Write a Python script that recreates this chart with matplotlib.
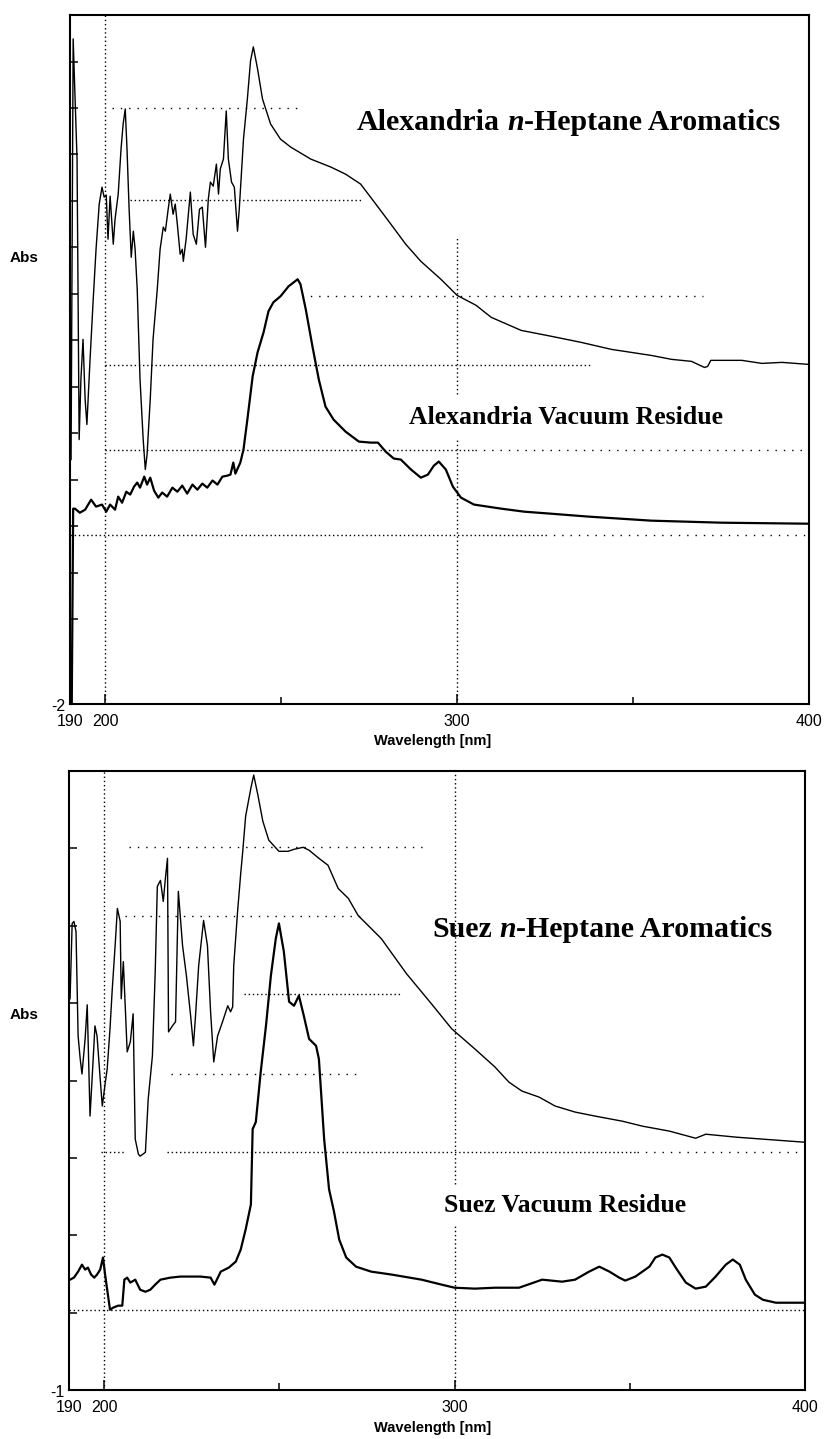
import numpy as np
import matplotlib
matplotlib.use("Agg")
import matplotlib.pyplot as plt

W, H = 826, 1439

# ---------------- spectra data ----------------
# Alexandria n-heptane aromatics
alex_aro_nm = [190.3, 190.9, 191.4, 192.0, 192.6, 193.1, 193.7, 194.3, 194.8, 195.7,
               196.6, 197.4, 198.3, 199.1, 199.7, 200.3, 200.8, 201.4, 202.3, 202.8,
               203.7, 204.5, 205.1, 205.7, 206.2, 206.8, 207.4, 208.0, 208.5, 209.1,
               209.9, 210.8, 211.4, 211.9, 212.8, 213.6, 214.8, 215.6, 216.5, 217.1,
               217.9, 218.5, 219.3, 219.9, 220.5, 221.3, 221.9, 222.2, 223.0, 224.2,
               225.0, 225.9, 226.8, 227.6, 228.5, 229.3, 229.9, 230.7, 231.6, 232.2,
               232.7, 233.6, 234.4, 235.0, 235.9, 236.7, 237.6, 238.1, 239.3, 240.4,
               241.3, 242.1, 243.3, 244.7, 247.0, 249.8, 252.7, 258.4, 264.1, 268.3,
               272.6, 276.9, 281.2, 285.4, 289.7, 295.4, 300.0, 305.4, 309.7, 318.2,
               326.8, 335.3, 343.8, 355.2, 360.9, 366.6, 370.3, 371.2, 372.1, 380.9,
               386.6, 392.3, 400.0]
alex_aro_abs = [-0.556, 1.929, 1.604, 1.219, -0.438, -0.083, 0.154, -0.201, -0.349, 0.036,
                0.391, 0.686, 0.953, 1.053, 0.994, 1.006, 0.746, 1.000, 0.716, 0.864,
                1.012, 1.278, 1.426, 1.515, 1.278, 0.923, 0.639, 0.793, 0.686, 0.450,
                -0.083, -0.438, -0.615, -0.527, -0.201, 0.154, 0.450, 0.686, 0.817, 0.793,
                0.923, 1.012, 0.893, 0.953, 0.834, 0.657, 0.686, 0.615, 0.746, 1.024,
                0.775, 0.716, 0.923, 0.935, 0.698, 0.982, 1.083, 1.059, 1.189, 1.012,
                1.160, 1.219, 1.503, 1.219, 1.083, 1.053, 0.793, 0.923, 1.337, 1.574,
                1.799, 1.882, 1.751, 1.574, 1.426, 1.337, 1.290, 1.219, 1.172, 1.130,
                1.071, 0.953, 0.834, 0.716, 0.615, 0.509, 0.414, 0.355, 0.284, 0.207,
                0.172, 0.136, 0.095, 0.059, 0.036, 0.024, -0.012, -0.006, 0.030, 0.030,
                0.012, 0.018, 0.006]

# Alexandria vacuum residue
alex_vr_nm = [190.5, 190.9, 191.4, 192.8, 194.3, 196.0, 197.4, 199.1, 200.3, 201.4,
              202.8, 203.7, 204.8, 206.0, 207.1, 208.2, 209.1, 209.9, 211.1, 211.9,
              212.8, 213.9, 215.1, 216.2, 217.6, 219.1, 220.5, 221.9, 223.3, 224.8,
              226.2, 227.6, 229.0, 230.5, 231.9, 233.3, 234.7, 235.6, 236.4, 237.0,
              238.4, 239.3, 240.4, 241.9, 243.3, 245.0, 246.4, 247.8, 249.8, 252.1,
              254.7, 255.5, 257.0, 258.9, 260.7, 262.6, 264.9, 268.3, 272.1, 275.5,
              277.5, 279.7, 282.0, 284.0, 286.9, 289.7, 291.7, 293.4, 294.8, 296.8,
              298.8, 301.1, 304.8, 312.5, 319.1, 326.8, 337.3, 355.2, 375.2, 400.0]
alex_vr_abs = [-2.000, -0.846, -0.846, -0.870, -0.852, -0.793, -0.834, -0.822, -0.864, -0.822,
               -0.852, -0.775, -0.811, -0.746, -0.763, -0.716, -0.692, -0.722, -0.657, -0.704,
               -0.663, -0.740, -0.781, -0.751, -0.775, -0.722, -0.746, -0.710, -0.757, -0.704,
               -0.734, -0.698, -0.722, -0.680, -0.704, -0.657, -0.651, -0.645, -0.574, -0.639,
               -0.574, -0.497, -0.320, -0.065, 0.077, 0.195, 0.320, 0.373, 0.408, 0.467,
               0.509, 0.479, 0.331, 0.112, -0.083, -0.243, -0.320, -0.391, -0.450, -0.456,
               -0.456, -0.509, -0.550, -0.556, -0.615, -0.663, -0.645, -0.592, -0.568, -0.615,
               -0.716, -0.781, -0.822, -0.846, -0.864, -0.876, -0.893, -0.917, -0.929, -0.935]

# Suez n-heptane aromatics
suez_aro_nm = [190.3, 190.9, 191.4, 192.0, 192.6, 193.2, 193.7, 194.6, 195.2, 196.0,
               196.9, 197.4, 198.0, 198.9, 199.5, 200.3, 200.9, 201.7, 202.3, 203.2,
               203.8, 204.6, 204.9, 205.5, 206.6, 207.5, 208.3, 208.9, 209.8, 210.3,
               211.8, 212.6, 213.8, 214.6, 215.2, 216.1, 216.9, 217.5, 218.1, 218.4,
               219.5, 220.4, 221.2, 222.4, 223.5, 224.7, 225.5, 226.1, 227.0, 228.4,
               229.5, 230.4, 231.3, 232.4, 233.8, 235.3, 236.1, 236.7, 237.0, 238.1,
               239.0, 239.6, 240.4, 241.9, 242.7, 243.9, 245.3, 247.0, 249.9, 252.5,
               254.2, 256.8, 258.5, 261.3, 263.9, 266.8, 269.7, 272.5, 279.1, 286.3,
               293.4, 299.2, 305.8, 311.5, 315.5, 319.2, 324.1, 328.7, 334.4, 340.1,
               347.9, 353.6, 361.3, 368.8, 371.7, 380.3, 388.0, 400.0]
suez_aro_abs = [1.528, 2.015, 2.028, 1.963, 1.288, 1.139, 1.042, 1.269, 1.489, 0.770,
                1.139, 1.353, 1.288, 1.010, 0.835, 0.977, 1.075, 1.334, 1.574, 1.885,
                2.112, 2.028, 1.528, 1.768, 1.185, 1.250, 1.431, 0.621, 0.524, 0.511,
                0.536, 0.880, 1.159, 1.703, 2.254, 2.293, 2.157, 2.306, 2.436, 1.314,
                1.353, 1.379, 2.222, 1.872, 1.677, 1.418, 1.224, 1.418, 1.742, 2.034,
                1.872, 1.444, 1.120, 1.288, 1.379, 1.483, 1.444, 1.476, 1.742, 2.092,
                2.339, 2.488, 2.708, 2.890, 2.974, 2.844, 2.676, 2.553, 2.481, 2.481,
                2.494, 2.507, 2.488, 2.436, 2.391, 2.241, 2.177, 2.066, 1.917, 1.690,
                1.496, 1.334, 1.204, 1.088, 0.990, 0.932, 0.893, 0.835, 0.796, 0.770,
                0.737, 0.705, 0.673, 0.627, 0.653, 0.634, 0.621, 0.601]

# Suez vacuum residue
suez_vr_nm = [190.3, 191.4, 192.6, 193.7, 194.6, 195.4, 196.3, 197.2, 198.0, 198.9,
              199.7, 200.3, 200.9, 201.7, 202.6, 204.0, 205.2, 205.8, 206.6, 207.5,
              208.9, 210.3, 211.8, 213.2, 214.6, 216.1, 218.9, 221.8, 224.7, 227.5,
              230.4, 231.5, 233.3, 235.6, 237.6, 239.0, 240.4, 241.9, 242.4, 243.3,
              244.7, 246.2, 247.6, 249.0, 249.9, 251.3, 252.8, 254.2, 255.6, 257.0,
              258.5, 260.5, 261.3, 262.8, 264.2, 265.6, 267.1, 269.1, 271.9, 276.2,
              282.0, 290.6, 296.3, 300.0, 305.8, 311.5, 318.4, 325.0, 330.7, 334.4,
              338.4, 341.3, 344.2, 347.0, 348.7, 351.6, 355.6, 357.3, 359.3, 361.3,
              363.1, 366.0, 368.8, 371.7, 374.5, 377.4, 379.4, 381.4, 383.1, 385.7,
              388.0, 391.7, 400.0]
suez_vr_abs = [-0.287, -0.274, -0.235, -0.190, -0.222, -0.209, -0.254, -0.274, -0.254, -0.222,
               -0.144, -0.254, -0.352, -0.481, -0.468, -0.455, -0.455, -0.287, -0.274, -0.306,
               -0.287, -0.352, -0.365, -0.352, -0.319, -0.287, -0.274, -0.267, -0.267, -0.267,
               -0.274, -0.319, -0.235, -0.209, -0.170, -0.092, 0.037, 0.199, 0.686, 0.731,
               1.055, 1.353, 1.677, 1.917, 2.015, 1.833, 1.509, 1.483, 1.548, 1.418,
               1.269, 1.224, 1.139, 0.621, 0.297, 0.154, -0.028, -0.144, -0.203, -0.235,
               -0.254, -0.287, -0.319, -0.339, -0.345, -0.339, -0.339, -0.287, -0.300, -0.287,
               -0.235, -0.203, -0.235, -0.274, -0.293, -0.267, -0.203, -0.144, -0.125, -0.144,
               -0.209, -0.306, -0.345, -0.332, -0.267, -0.190, -0.157, -0.190, -0.287, -0.384,
               -0.417, -0.436, -0.436]

# ---------------- figure layout ----------------
fig = plt.figure(figsize=(W / 100, H / 100), dpi=100)


def fx(px):
    return px / W


def fy(py):
    return 1 - py / H


ax1 = fig.add_axes([fx(70), fy(704), (809 - 70) / W, (704 - 15) / H])
ax2 = fig.add_axes([fx(69), fy(1390), (805 - 69) / W, (1390 - 771) / H])

SANS = ["Liberation Sans", "DejaVu Sans"]
SERIF = ["Liberation Serif", "DejaVu Serif"]
DOT = (0, (1, 2))
SPARSE = (0, (1, 5))


def style(ax, ylo, yhi, yticks, bottom_label):
    ax.set_xlim(190, 400)
    ax.set_ylim(ylo, yhi)
    for s in ax.spines.values():
        s.set_linewidth(1.5)
        s.set_color("black")
    ax.set_xticks([190, 200, 300, 400])
    ax.set_xticklabels(["190", "200", "300", "400"], family=SANS, fontsize=11.5)
    ax.set_xticks([250, 350], minor=True)
    ax.tick_params(axis="x", which="major", direction="in", length=7, width=1.1, pad=7)
    ax.tick_params(axis="x", which="minor", direction="in", length=5, width=1.1)
    ax.set_yticks(yticks)
    ax.set_yticklabels([""] * len(yticks))
    ax.tick_params(axis="y", direction="in", length=6, width=1.1)
    ax.annotate(bottom_label, xy=(0, 0), xycoords="axes fraction", xytext=(-3, -1.5),
                textcoords="offset points", ha="right", va="center",
                family=SANS, fontsize=11.5)


def hdots(ax, y, x0, x1, ls=DOT, lw=1.0):
    ax.plot([x0, x1], [y, y], color="black", lw=lw, ls=ls, zorder=1)


def vdots(ax, x, y0, y1, ls=DOT, lw=1.0):
    ax.plot([x, x], [y0, y1], color="black", lw=lw, ls=ls, zorder=1)


# ---------------- top panel ----------------
style(ax1, -2.0, 2.07, [-1.50 + 0.2746 * k for k in range(13)], "-2")
vdots(ax1, 200, -2.0, 2.07)
vdots(ax1, 300, -0.17, 0.75)
vdots(ax1, 300, -2.0, -0.44)
hdots(ax1, 1.52, 202, 256, ls=SPARSE)
hdots(ax1, 0.976, 207, 273)
hdots(ax1, 0.41, 256, 370, ls=SPARSE)
hdots(ax1, 0.0, 200, 338)
hdots(ax1, -0.50, 200, 305)
hdots(ax1, -0.50, 305, 398, ls=SPARSE)
hdots(ax1, -1.0, 190, 325)
hdots(ax1, -1.0, 325, 400, ls=SPARSE)

ax1.plot(alex_aro_nm, alex_aro_abs, color="black", lw=1.0, zorder=3)
ax1.plot(alex_vr_nm, alex_vr_abs, color="black", lw=1.6, zorder=3)

# ---------------- bottom panel ----------------
style(ax2, -1.0, 3.0, [-0.5 + 0.5 * k for k in range(7)], "-1")
vdots(ax2, 200, -1.0, 3.0)
vdots(ax2, 300, 0.33, 3.0)
vdots(ax2, 300, -1.0, 0.07)
hdots(ax2, 2.51, 207, 291, ls=SPARSE)
hdots(ax2, 2.06, 206, 273, ls=SPARSE)
hdots(ax2, 1.56, 240, 285)
hdots(ax2, 1.04, 219, 273, ls=SPARSE)
hdots(ax2, 0.54, 199, 206)
hdots(ax2, 0.54, 218, 352)
hdots(ax2, 0.54, 352, 400, ls=SPARSE)
hdots(ax2, -0.48, 190, 400)

ax2.plot(suez_aro_nm, suez_aro_abs, color="black", lw=1.0, zorder=3)
ax2.plot(suez_vr_nm, suez_vr_abs, color="black", lw=1.6, zorder=3)

# ---------------- axis captions ----------------
for ypx in (258, 1015):
    fig.text(fx(24), fy(ypx), "Abs", family=SANS, fontsize=11, fontweight="bold",
             ha="center", va="center")
for ypx in (741, 1428):
    fig.text(fx(433), fy(ypx), "Wavelength [nm]", family=SANS, fontsize=10.5,
             fontweight="bold", ha="center", va="center")


# ---------------- curve titles ----------------
def title_with_italic_n(x_px, base_px, head, tail, size):
    t0 = fig.text(fx(x_px), fy(base_px), head, family=SERIF, fontsize=size,
                  fontweight="bold", ha="left", va="baseline")
    t1 = fig.text(0, 0, "n", family=SERIF, fontsize=size, fontweight="bold",
                  style="italic", ha="left", va="baseline")
    t2 = fig.text(0, 0, tail, family=SERIF, fontsize=size, fontweight="bold",
                  ha="left", va="baseline")
    fig.canvas.draw()
    r = fig.canvas.get_renderer()
    space = size * 0.25 * 100 / 72
    b0 = t0.get_window_extent(r)
    t1.set_position(((b0.x1 + space) / W, fy(base_px)))
    b1 = t1.get_window_extent(r)
    t2.set_position((b1.x1 / W, fy(base_px)))


title_with_italic_n(357, 130, "Alexandria", "-Heptane Aromatics", 21.5)
title_with_italic_n(432, 937, "Suez", "-Heptane Aromatics", 21.5)

fig.text(fx(409), fy(424), "Alexandria Vacuum Residue", family=SERIF, fontsize=18.5,
         fontweight="bold", ha="left", va="baseline")
fig.text(fx(444), fy(1212), "Suez Vacuum Residue", family=SERIF, fontsize=18.5,
         fontweight="bold", ha="left", va="baseline")

fig.savefig("out.png", dpi=100, facecolor="white")
